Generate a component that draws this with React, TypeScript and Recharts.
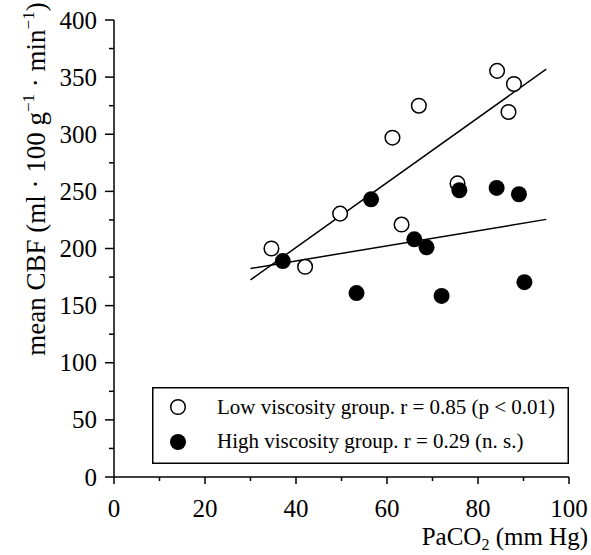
import { ScatterChart, Scatter, XAxis, YAxis, ReferenceLine } from "recharts";

// PaCO2 (mm Hg) vs mean CBF
const lowX = [34.6, 42.0, 49.7, 61.2, 63.2, 67.0, 75.5, 84.2, 86.7, 87.9];
const lowY = [200, 184, 230.5, 297, 221, 325, 257, 355.5, 319.5, 344];
const highX = [37.1, 53.3, 56.5, 66.0, 68.7, 72.0, 75.9, 84.1, 89.0, 90.2];
const highY = [189, 161, 243, 208, 201, 158.5, 251, 253, 247.5, 170.5];

// regression line end points
const lowFitX = [30, 95];
const lowFitY = [172.5, 357];
const highFitX = [30, 95];
const highFitY = [182.5, 225.5];

const xTicks = [0, 10, 20, 30, 40, 50, 60, 70, 80, 90, 100];
const yTicks = [0, 25, 50, 75, 100, 125, 150, 175, 200, 225, 250, 275, 300, 325, 350, 375, 400];

const lowLabel = "Low viscosity group. r = 0.85 (p < 0.01)";
const highLabel = "High viscosity group. r = 0.29 (n. s.)";

const FONT = '"Liberation Serif", "Times New Roman", serif';
const X_TICK_SIZE = 7;
const X_TICK_MARGIN = 15;
const Y_TICK_SIZE = 9;
const Y_TICK_MARGIN = 8;

const lowData = lowX.map((x, i) => ({ x, y: lowY[i] }));
const highData = highX.map((x, i) => ({ x, y: highY[i] }));

function XTick(props: any) {
  const { x, y, payload } = props;
  const major = payload.value % 20 === 0;
  const axisY = y - X_TICK_SIZE - X_TICK_MARGIN;
  return (
    <g>
      <line x1={x} x2={x} y1={axisY} y2={axisY + (major ? 7 : 4)} stroke="#000" strokeWidth={1.5} />
      {major && (
        <text x={x} y={axisY + 40} textAnchor="middle" fontSize={25} fontFamily={FONT} fill="#000">
          {payload.value}
        </text>
      )}
    </g>
  );
}

function YTick(props: any) {
  const { x, y, payload } = props;
  const major = payload.value % 50 === 0;
  const axisX = x + Y_TICK_SIZE + Y_TICK_MARGIN;
  return (
    <g>
      <line x1={axisX - (major ? 9 : 5)} x2={axisX} y1={y} y2={y} stroke="#000" strokeWidth={1.5} />
      {major && (
        <text x={axisX - 17} y={y + 8.5} textAnchor="end" fontSize={25} fontFamily={FONT} fill="#000">
          {payload.value}
        </text>
      )}
    </g>
  );
}

function YLabel() {
  return (
    <text
      x={45}
      y={179}
      transform="rotate(-90, 45, 179)"
      textAnchor="middle"
      fontSize={27}
      fontFamily={FONT}
      fill="#000"
    >
      mean CBF (ml · 100 g
      <tspan dy={-11} fontSize={17}>−1</tspan>
      <tspan dy={11}> · min</tspan>
      <tspan dy={-11} fontSize={17}>−1</tspan>
      <tspan dy={11}>)</tspan>
    </text>
  );
}

function XLabel() {
  return (
    <text x={588} y={545} textAnchor="end" fontSize={25} fontFamily={FONT} fill="#000">
      PaCO
      <tspan dy={5} fontSize={16}>2</tspan>
      <tspan dy={-5}> (mm Hg)</tspan>
    </text>
  );
}

const OpenDot = (p: any) => (
  <circle cx={p.cx} cy={p.cy} r={7.3} fill="#fff" stroke="#000" strokeWidth={1.5} />
);
const FilledDot = (p: any) => <circle cx={p.cx} cy={p.cy} r={8} fill="#000" />;

function LegendBox() {
  return (
    <svg
      width={417}
      height={77}
      style={{ position: "absolute", left: 152, top: 387, overflow: "visible" }}
    >
      <rect x={0.75} y={0.75} width={415.5} height={75.5} fill="#fff" stroke="#000" strokeWidth={1.5} />
      <circle cx={26} cy={20} r={7.3} fill="#fff" stroke="#000" strokeWidth={1.5} />
      <text x={65} y={27} fontSize={21} fontFamily={FONT} fill="#000">{lowLabel}</text>
      <circle cx={26} cy={55} r={8} fill="#000" />
      <text x={65} y={61} fontSize={21} fontFamily={FONT} fill="#000">{highLabel}</text>
    </svg>
  );
}

export default function App() {
  return (
    <div style={{ position: "absolute", left: 0, top: 0, width: 591, height: 555, background: "#fff" }}>
      <ScatterChart width={591} height={555} margin={{ top: 20, right: 22, bottom: 38, left: 0 }}>
        <XAxis
          type="number"
          dataKey="x"
          domain={[0, 100]}
          ticks={xTicks}
          interval={0}
          height={40}
          tickSize={X_TICK_SIZE}
          tickMargin={X_TICK_MARGIN}
          tickLine={false}
          tick={<XTick />}
          axisLine={{ stroke: "#000", strokeWidth: 1.5 }}
          allowDataOverflow
          label={<XLabel />}
        />
        <YAxis
          type="number"
          dataKey="y"
          domain={[0, 400]}
          ticks={yTicks}
          interval={0}
          width={114}
          tickSize={Y_TICK_SIZE}
          tickMargin={Y_TICK_MARGIN}
          tickLine={false}
          tick={<YTick />}
          axisLine={{ stroke: "#000", strokeWidth: 1.5 }}
          allowDataOverflow
          label={<YLabel />}
        />
        <ReferenceLine
          segment={[
            { x: lowFitX[0], y: lowFitY[0] },
            { x: lowFitX[1], y: lowFitY[1] },
          ]}
          stroke="#000"
          strokeWidth={1.5}
          ifOverflow="visible"
        />
        <ReferenceLine
          segment={[
            { x: highFitX[0], y: highFitY[0] },
            { x: highFitX[1], y: highFitY[1] },
          ]}
          stroke="#000"
          strokeWidth={1.5}
          ifOverflow="visible"
        />
        <Scatter data={lowData} shape={OpenDot} isAnimationActive={false} />
        <Scatter data={highData} shape={FilledDot} isAnimationActive={false} />
      </ScatterChart>
      <LegendBox />
    </div>
  );
}
